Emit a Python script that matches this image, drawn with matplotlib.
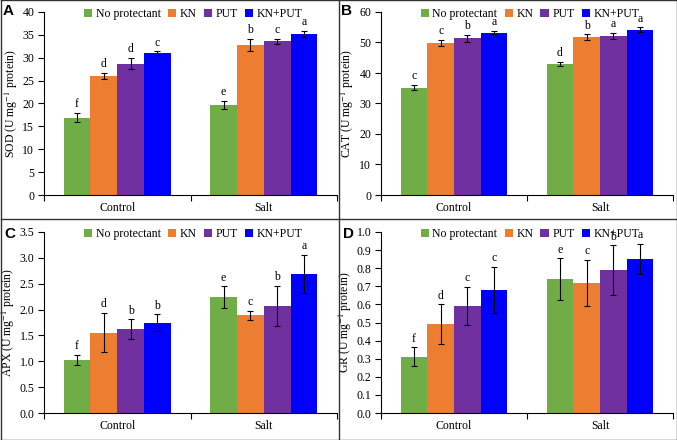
import matplotlib
matplotlib.use("Agg")
import matplotlib.pyplot as plt
import numpy as np
from matplotlib.lines import Line2D

plt.rcParams['font.family'] = ['Liberation Serif', 'DejaVu Serif']
plt.rcParams['mathtext.fontset'] = 'stix'

groups = ["Control", "Salt"]
treatments = ["No protectant", "KN", "PUT", "KN+PUT"]
colors = ["#70AD47", "#ED7D31", "#7030A0", "#0000FF"]

# values[treatment][group]
sod = [[16.9, 19.7], [26.1, 32.8], [28.7, 33.6], [31.0, 35.2]]
sod_err = [[1.05, 0.9], [0.65, 1.3], [1.2, 0.6], [0.4, 0.7]]
sod_let = [["f", "e"], ["d", "b"], ["d", "c"], ["c", "a"]]

cat = [[35.2, 43.0], [49.8, 51.7], [51.4, 52.2], [53.2, 54.2]]
cat_err = [[0.9, 0.7], [1.1, 1.0], [1.1, 1.0], [0.5, 0.8]]
cat_let = [["c", "d"], ["c", "b"], ["b", "a"], ["a", "a"]]

apx = [[1.02, 2.24], [1.55, 1.89], [1.62, 2.07], [1.75, 2.69]]
apx_err = [[0.10, 0.21], [0.38, 0.09], [0.19, 0.39], [0.16, 0.37]]
apx_let = [["f", "e"], ["d", "c"], ["b", "b"], ["b", "a"]]

gr = [[0.31, 0.74], [0.49, 0.72], [0.59, 0.79], [0.68, 0.85]]
gr_err = [[0.052, 0.114], [0.11, 0.127], [0.105, 0.136], [0.128, 0.083]]
gr_let = [["f", "e"], ["d", "c"], ["c", "b"], ["c", "a"]]

panels = [
    ("A", "SOD", sod, sod_err, sod_let, 40, 5, "{:.0f}"),
    ("B", "CAT", cat, cat_err, cat_let, 60, 10, "{:.0f}"),
    ("C", "APX", apx, apx_err, apx_let, 3.5, 0.5, "{:.1f}"),
    ("D", "GR", gr, gr_err, gr_let, 1.0, 0.1, "{:.1f}"),
]

W, H = 677, 440
fig = plt.figure(figsize=(W / 100, H / 100), dpi=100)

# axes boxes in pixels: left, right, top, bottom
boxes = [(44, 337, 12, 195), (381, 673, 12, 195), (44, 337, 232, 413), (381, 673, 232, 413)]
label_pos = [(3, 4), (341, 4), (4, 227), (343, 227)]

fs = 8.5
w = 0.183
x = np.arange(len(groups))

for (lab, name, vals, errs, lets, ymax, step, fmt), (l, r, t, b), (lx, ly) in zip(panels, boxes, label_pos):
    ax = fig.add_axes([l / W, 1 - b / H, (r - l) / W, (b - t) / H])
    for i in range(4):
        xs = x + (i - 1.5) * w
        ax.bar(xs, vals[i], width=w, color=colors[i], label=treatments[i], zorder=2)
        ax.errorbar(xs, vals[i], yerr=errs[i], fmt="none", ecolor="black",
                    elinewidth=0.8, capsize=2.2, capthick=0.8, zorder=3)
        for j in range(len(groups)):
            ax.text(xs[j], vals[i][j] + errs[i][j] + ymax * 0.015, lets[i][j],
                    ha="center", va="bottom", fontsize=fs, zorder=4)
    ax.set_xlim(-0.5, 1.5)
    ax.set_ylim(0, ymax)
    yt = np.arange(0, ymax + step / 2, step)
    ax.set_yticks(yt)
    ax.set_yticklabels([fmt.format(v) for v in yt], fontsize=fs)
    ax.set_xticks([-0.5, 0.5, 1.5])
    ax.set_xticklabels([])
    ax.set_xticks(x, minor=True)
    ax.set_xticklabels(groups, minor=True, fontsize=fs)
    ax.tick_params(axis="x", which="minor", length=0, pad=5)
    ax.tick_params(axis="x", which="major", length=4, direction="out", width=0.8)
    ax.tick_params(axis="y", length=4, direction="out", width=0.8, pad=3)
    for s in ["top", "right"]:
        ax.spines[s].set_visible(False)
    for s in ["left", "bottom"]:
        ax.spines[s].set_linewidth(0.8)
    ax.set_ylabel(name + r" (U mg$^{-1}$ protein)", fontsize=fs, labelpad=2)
    leg = ax.legend(loc="upper center", bbox_to_anchor=(0.51, 1.06), ncol=4, frameon=False,
                    fontsize=fs, handlelength=0.7, handleheight=0.7, handletextpad=0.3,
                    columnspacing=0.6, borderpad=0.1)
    fig.text(lx / W, 1 - ly / H, lab, fontsize=11, fontweight="bold",
             family="Liberation Sans", ha="left", va="top")

# panel frames
lc = "#333333"
for (x0, y0, x1, y1) in [(0.5, 0.5, 676.5, 0.5), (0.5, 439.5, 676.5, 439.5),
                         (0.5, 0.5, 0.5, 439.5), (676.5, 0.5, 676.5, 439.5),
                         (339, 0.5, 339, 439.5), (0.5, 219, 676.5, 219)]:
    fig.add_artist(Line2D([x0 / W, x1 / W], [1 - y0 / H, 1 - y1 / H], color=lc, lw=1.0,
                          transform=fig.transFigure))

fig.savefig("out.png", dpi=100)
